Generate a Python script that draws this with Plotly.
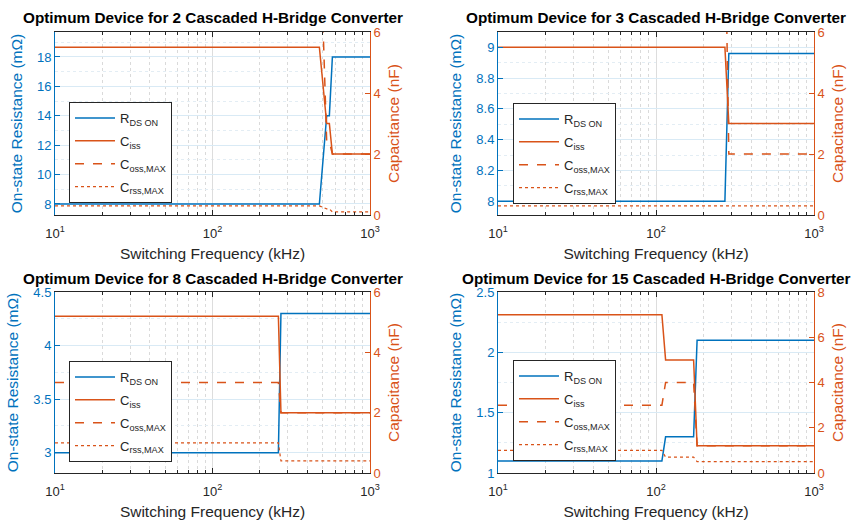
import plotly.graph_objects as go

W, H = 857, 521
BLUE = "#0072BD"
ORANGE = "#D95319"
DARK = "#262626"
FONT = "Liberation Sans, Arial, sans-serif"

# ---------------- data ----------------
titles = [
    "Optimum Device for 2 Cascaded H-Bridge Converter",
    "Optimum Device for 3 Cascaded H-Bridge Converter",
    "Optimum Device for 8 Cascaded H-Bridge Converter",
    "Optimum Device for 15 Cascaded H-Bridge Converter",
]
series_names = ["R<sub>DS ON</sub>", "C<sub>iss</sub>", "C<sub>oss,MAX</sub>", "C<sub>rss,MAX</sub>"]

# 2 cascaded
freq_2 = [10, 477, 531, 552, 577, 1000]
rds_2 = [8, 8, 14, 14, 18, 18]
ciss_2 = [5.5, 5.5, 3, 3, 2, 2]
coss_2 = [10, 10, 2.4, 2.4, 2, 2]
crss_2 = [0.3, 0.3, 0.2, 0.2, 0.1, 0.1]

# 3 cascaded
freq_3 = [10, 273, 289, 1000]
rds_3 = [8, 8, 8.96, 8.96]
ciss_3 = [5.5, 5.5, 3, 3]
coss_3 = [10, 10, 2, 2]
crss_3 = [0.3, 0.3, 0.3, 0.3]

# 8 cascaded
freq_8 = [10, 262, 272, 1000]
rds_8 = [3, 3, 4.3, 4.3]
ciss_8 = [5.2, 5.2, 2, 2]
coss_8 = [3, 3, 2, 2]
crss_8 = [1.0, 1.0, 0.4, 0.4]

# 15 cascaded
freq_15 = [10, 109, 115, 173, 182, 1000]
rds_15 = [1.1, 1.1, 1.3, 1.3, 2.1, 2.1]
ciss_15 = [7, 7, 5, 5, 1.2, 1.2]
coss_15 = [3, 3, 4, 4, 1.2, 1.2]
crss_15 = [1.0, 1.0, 0.7, 0.7, 0.5, 0.5]

x_tick_vals = [10, 100, 1000]
x_tick_text = ["10<sup>1</sup>", "10<sup>2</sup>", "10<sup>3</sup>"]

panels = [
    dict(f=freq_2, rds=rds_2, ciss=ciss_2, coss=coss_2, crss=crss_2,
         yl=[7.25, 19.7], yl_dtick=2, yl_minor=1, yr=[0, 6], yr_dtick=2,
         box=(55, 370, 32, 215), leg=(69, 102)),
    dict(f=freq_3, rds=rds_3, ciss=ciss_3, coss=coss_3, crss=crss_3,
         yl=[7.91, 9.1], yl_dtick=0.2, yl_minor=0.1, yr=[0, 6], yr_dtick=2,
         box=(498, 814, 32, 215), leg=(513, 103)),
    dict(f=freq_8, rds=rds_8, ciss=ciss_8, coss=coss_8, crss=crss_8,
         yl=[2.81, 4.5], yl_dtick=0.5, yl_minor=0.25, yr=[0, 6], yr_dtick=2,
         box=(55, 370, 292, 473), leg=(69, 361)),
    dict(f=freq_15, rds=rds_15, ciss=ciss_15, coss=coss_15, crss=crss_15,
         yl=[1, 2.5], yl_dtick=0.5, yl_minor=0.25, yr=[0, 8], yr_dtick=2,
         box=(498, 814, 292, 473), leg=(513, 360)),
]

minor_x = [k * 10 ** d for d in (1, 2) for k in range(2, 10)]

fig = go.Figure()
layout = dict(
    width=W, height=H, margin=dict(l=0, r=0, t=0, b=0, autoexpand=False),
    paper_bgcolor="white", plot_bgcolor="white",
    font=dict(family=FONT, size=13, color=DARK),
    showlegend=True, annotations=[],
)

for i, p in enumerate(panels, start=1):
    xs = "" if i == 1 else str(i)
    xname, yl_name, yr_name = f"x{xs}", f"y{xs}", f"y{i + 4}"
    leg = "legend" if i == 1 else f"legend{i}"
    x0, x1, y0, y1 = p["box"]
    xd = [x0 / W, x1 / W]
    yd = [1 - y1 / H, 1 - y0 / H]

    fig.add_trace(go.Scatter(x=p["f"], y=p["rds"], mode="lines", name=series_names[0],
                             line=dict(color=BLUE, width=1.5), xaxis=xname, yaxis=yl_name,
                             legend=leg, legendgroup=f"a{i}"))
    fig.add_trace(go.Scatter(x=p["f"], y=p["ciss"], mode="lines", name=series_names[1],
                             line=dict(color=ORANGE, width=1.5), xaxis=xname, yaxis=yr_name,
                             legend=leg, legendgroup=f"b{i}"))
    fig.add_trace(go.Scatter(x=p["f"], y=p["coss"], mode="lines", name=series_names[2],
                             line=dict(color=ORANGE, width=1.5, dash="dash"), xaxis=xname, yaxis=yr_name,
                             legend=leg, legendgroup=f"c{i}"))
    fig.add_trace(go.Scatter(x=p["f"], y=p["crss"], mode="lines", name=series_names[3],
                             line=dict(color=ORANGE, width=1.2, dash="dot"), xaxis=xname, yaxis=yr_name,
                             legend=leg, legendgroup=f"d{i}"))

    layout[f"xaxis{xs}"] = dict(
        type="log", range=[1, 3], domain=xd, anchor=yl_name, automargin=False,
        showline=True, linecolor=DARK, linewidth=1, mirror="ticks",
        ticks="inside", ticklen=5, tickcolor=DARK, ticklabelstandoff=6,
        tickvals=x_tick_vals, ticktext=x_tick_text,
        tickfont=dict(size=13, color=DARK),
        showgrid=True, gridcolor="#dddddd", gridwidth=1, zeroline=False,
        minor=dict(tickvals=minor_x, ticks="inside", ticklen=3, tickcolor=DARK,
                   showgrid=True, gridcolor="#dadada", griddash="dot", gridwidth=1),
        title=dict(text="Switching Frequency (kHz)", font=dict(size=15.5, color=DARK), standoff=8),
    )
    layout[f"yaxis{xs}"] = dict(
        domain=yd, anchor=xname, range=p["yl"], dtick=p["yl_dtick"], automargin=False,
        showline=True, linecolor=BLUE, linewidth=1, mirror=False,
        ticks="inside", ticklen=5, tickcolor=BLUE,
        tickfont=dict(size=13, color=BLUE),
        showgrid=True, gridcolor="#d9eaf5", gridwidth=1, zeroline=False,
        minor=dict(dtick=p["yl_minor"], showgrid=True, gridcolor="#e3edf4", griddash="dot"),
        title=dict(text="On-state Resistance (mΩ)", font=dict(size=15.5, color=BLUE), standoff=10),
    )
    layout[f"yaxis{i + 4}"] = dict(
        overlaying=yl_name, side="right", anchor=xname, range=p["yr"], dtick=p["yr_dtick"],
        automargin=False,
        showline=True, linecolor=ORANGE, linewidth=1,
        ticks="inside", ticklen=5, tickcolor=ORANGE,
        tickfont=dict(size=13, color=ORANGE),
        showgrid=False, zeroline=False,
        title=dict(text="Capacitance (nF)", font=dict(size=15.5, color=ORANGE), standoff=8),
    )
    lx, ly = p["leg"]
    layout[leg] = dict(
        x=lx / W, y=1 - ly / H, xanchor="left", yanchor="top",
        bgcolor="white", bordercolor=DARK, borderwidth=1, itemwidth=40,
        font=dict(family=FONT, size=13, color=DARK), tracegroupgap=3,
    )
    layout["annotations"].append(dict(
        text=f"<b>{titles[i - 1]}</b>", xref="paper", yref="paper",
        x=(x0 + x1) / 2 / W, y=1 - (y0 - 14) / H, xanchor="center", yanchor="middle",
        showarrow=False, font=dict(size=15.3, color="black", family=FONT),
    ))

fig.update_layout(**layout)
fig.write_html("out.html", config={"displayModeBar": False},
               post_script="document.body.style.margin='0px';")
